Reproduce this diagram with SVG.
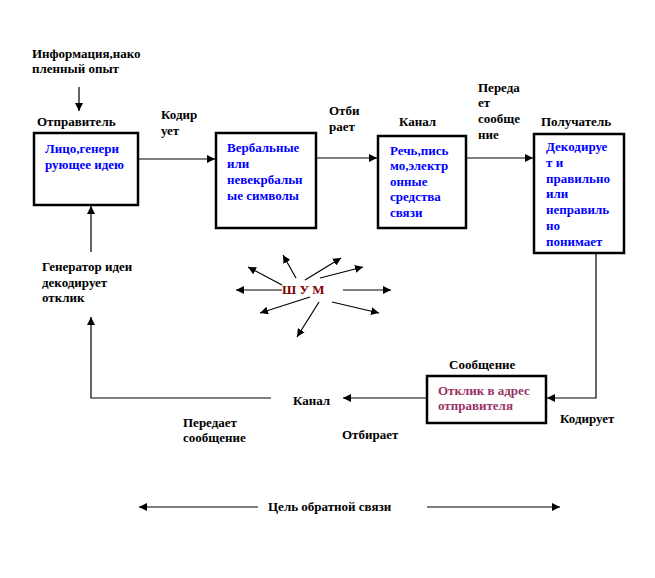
<svg xmlns="http://www.w3.org/2000/svg" width="655" height="578" viewBox="0 0 655 578">
<style>
text{font-family:"Liberation Serif","Times New Roman",serif;font-weight:bold;font-size:13px;fill:#000}
.b{fill:#0000ff}
.r{fill:#800000}
.p{fill:#993366}
.box{fill:#fff;stroke:#000;stroke-width:2.5}
.ln{fill:none;stroke:#000;stroke-width:1.2}
</style>
<defs>
<marker id="ah" viewBox="0 0 10 10" refX="10" refY="5" markerWidth="8" markerHeight="8" markerUnits="userSpaceOnUse" orient="auto">
<path d="M0,0 L10,5 L0,10 z" fill="#000"/>
</marker>
</defs>
<rect width="655" height="578" fill="#fff"/>
<g id="connectors">
<line class="ln" x1="79" y1="87" x2="79" y2="111" marker-end="url(#ah)"/>
<line class="ln" x1="138" y1="159" x2="215" y2="159" marker-end="url(#ah)"/>
<line class="ln" x1="316" y1="158" x2="377" y2="158" marker-end="url(#ah)"/>
<line class="ln" x1="466" y1="158" x2="533" y2="158" marker-end="url(#ah)"/>
<polyline class="ln" points="596,253 596,398 547,398" marker-end="url(#ah)"/>
<line class="ln" x1="427" y1="398" x2="343" y2="398" marker-end="url(#ah)"/>
<polyline class="ln" points="271,398 91,398 91,317" marker-end="url(#ah)"/>
<line class="ln" x1="91" y1="252" x2="91" y2="206" marker-end="url(#ah)"/>
<line class="ln" x1="258" y1="507" x2="139" y2="507" marker-end="url(#ah)"/>
<line class="ln" x1="427" y1="507" x2="560" y2="507" marker-end="url(#ah)"/>
<line class="ln" x1="282" y1="290" x2="236" y2="290" marker-end="url(#ah)"/>
<line class="ln" x1="343" y1="290" x2="391" y2="290" marker-end="url(#ah)"/>
<line class="ln" x1="282" y1="285" x2="248" y2="267" marker-end="url(#ah)"/>
<line class="ln" x1="296" y1="278" x2="283" y2="255" marker-end="url(#ah)"/>
<line class="ln" x1="305" y1="280" x2="341" y2="258" marker-end="url(#ah)"/>
<line class="ln" x1="320" y1="278" x2="363" y2="267" marker-end="url(#ah)"/>
<line class="ln" x1="310" y1="297" x2="260" y2="313" marker-end="url(#ah)"/>
<line class="ln" x1="319" y1="302" x2="297" y2="337" marker-end="url(#ah)"/>
<line class="ln" x1="332" y1="302" x2="379" y2="313" marker-end="url(#ah)"/>
</g>
<g id="labels">
<text x="32" y="58">Информация,нако</text>
<text x="32" y="73">пленный опыт</text>
<text x="37" y="126">Отправитель</text>
<text x="161" y="119">Кодир</text>
<text x="161" y="135">ует</text>
<text x="329" y="115">Отби</text>
<text x="329" y="131">рает</text>
<text x="399" y="126">Канал</text>
<text x="478" y="92">Переда</text>
<text x="478" y="107">ет</text>
<text x="478" y="123">сообще</text>
<text x="478" y="139">ние</text>
<text x="541" y="126">Получатель</text>
<text x="42" y="271">Генератор идеи</text>
<text x="42" y="287">декодирует</text>
<text x="42" y="302">отклик</text>
<text x="449" y="369">Сообщение</text>
<text x="293" y="405">Канал</text>
<text x="560" y="423">Кодирует</text>
<text x="183" y="427">Передает</text>
<text x="183" y="442">сообщение</text>
<text x="342" y="439">Отбирает</text>
<text x="268" y="511">Цель обратной связи</text>
</g>
<g id="noise">
<text class="r" x="282" y="294">Ш У М</text>
</g>
<g id="sender">
<rect class="box" x="34" y="133" width="104" height="72"/>
<text class="b" x="45" y="153">Лицо,генери</text>
<text class="b" x="45" y="169">рующее идею</text>
</g>
<g id="symbols">
<rect class="box" x="216" y="133" width="100" height="95"/>
<text class="b" x="227" y="152">Вербальные</text>
<text class="b" x="227" y="168">или</text>
<text class="b" x="227" y="184">невекрбальн</text>
<text class="b" x="227" y="200">ые символы</text>
</g>
<g id="channel">
<rect class="box" x="378" y="136" width="88" height="92"/>
<text class="b" x="390" y="155">Речь,пись</text>
<text class="b" x="390" y="170">мо,электр</text>
<text class="b" x="390" y="186">онные</text>
<text class="b" x="390" y="201">средства</text>
<text class="b" x="390" y="217">связи</text>
</g>
<g id="receiver">
<rect class="box" x="534" y="134" width="90" height="119"/>
<text class="b" x="546" y="151">Декодируе</text>
<text class="b" x="546" y="167">т и</text>
<text class="b" x="546" y="183">правильно</text>
<text class="b" x="546" y="198">или</text>
<text class="b" x="546" y="214">неправиль</text>
<text class="b" x="546" y="230">но</text>
<text class="b" x="546" y="246">понимает</text>
</g>
<g id="response">
<rect class="box" x="427" y="376" width="119" height="47"/>
<text class="p" x="438" y="395">Отклик в адрес</text>
<text class="p" x="438" y="410">отправителя</text>
</g>
</svg>
